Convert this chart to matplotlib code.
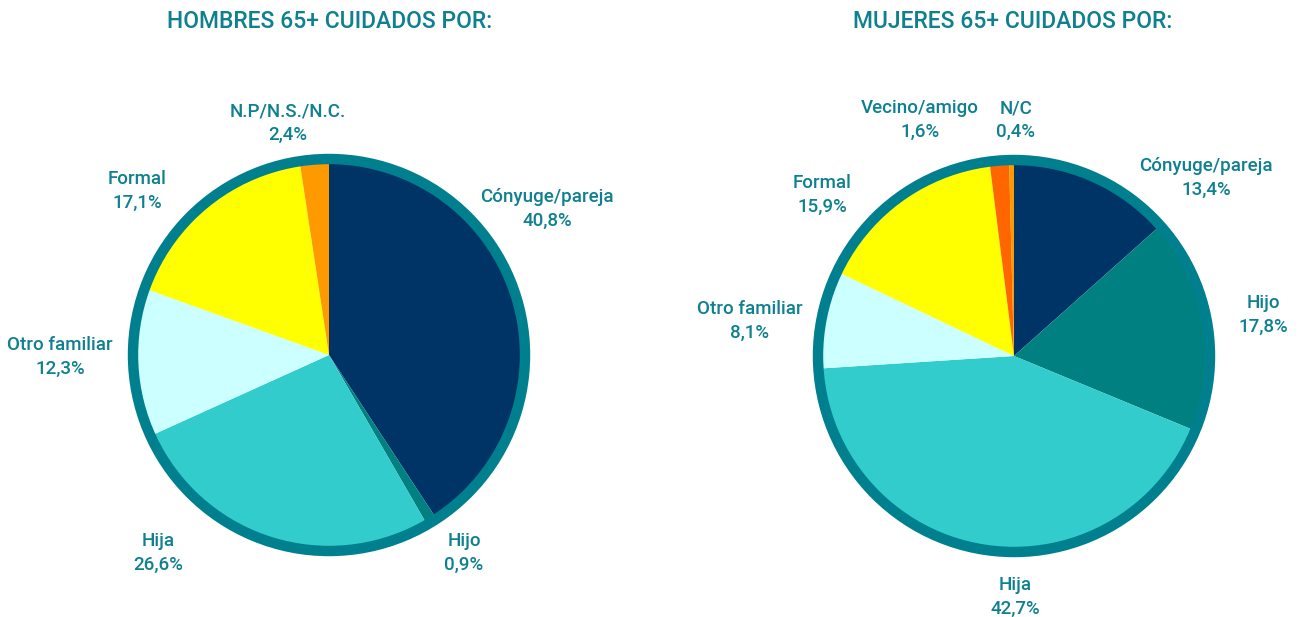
import matplotlib
matplotlib.use("Agg")
import matplotlib.pyplot as plt
from matplotlib.patches import Circle

# Datos
hombres_cat = ["Cónyuge/pareja", "Hijo", "Hija", "Otro familiar", "Formal", "N.P/N.S./N.C."]
hombres_val = [40.8, 0.9, 26.6, 12.3, 17.1, 2.4]
hombres_col = ["#003366", "#008080", "#33CCCC", "#CCFFFF", "#FFFF00", "#FF9900"]

mujeres_cat = ["Cónyuge/pareja", "Hijo", "Hija", "Otro familiar", "Formal", "Vecino/amigo", "N/C"]
mujeres_val = [13.4, 17.8, 42.7, 8.1, 15.9, 1.6, 0.4]
mujeres_col = ["#003366", "#008080", "#33CCCC", "#CCFFFF", "#FFFF00", "#FF6600", "#FF9900"]

# Posiciones de las etiquetas (pixeles, y desde arriba)
hombres_pos = [(547, 209), (464, 553), (158, 553), (60, 357), (137, 191), (288, 123)]
mujeres_pos = [(1206, 178), (1263, 315), (1015, 597), (750, 321), (822, 195), (920, 120), (1016, 120)]

W, H = 1299, 617
TEXTO = "#0E8090"
ARO = "#00808E"

fig = plt.figure(figsize=(W / 100, H / 100), dpi=100)
ax = fig.add_axes([0, 0, 1, 1])
ax.set_xlim(0, W)
ax.set_ylim(0, H)
ax.set_aspect("equal")
ax.axis("off")


def dibujar(valores, colores, cats, pos, centro, titulo, xt):
    cx, cy = centro[0], H - centro[1]
    ax.pie(valores, colors=colores, startangle=90, counterclock=False,
           center=(cx, cy), radius=194, normalize=True,
           wedgeprops=dict(linewidth=0))
    # aro exterior
    ax.add_patch(Circle((cx, cy), 196, fill=False, edgecolor=ARO, linewidth=7.5))
    for c, v, (x, y) in zip(cats, valores, pos):
        txt = c + "\n" + f"{v:.1f}".replace(".", ",") + "%"
        ax.text(x, H - y, txt, ha="center", va="center", color=TEXTO,
                fontsize=13.5, family="Roboto", weight="medium", linespacing=1.4)
    ax.text(xt, H - 22, titulo, ha="center", va="center", color=TEXTO,
            fontsize=16.5, family="Roboto", weight="medium")


dibujar(hombres_val, hombres_col, hombres_cat, hombres_pos, (329, 355),
        "HOMBRES 65+ CUIDADOS POR:", 330)
dibujar(mujeres_val, mujeres_col, mujeres_cat, mujeres_pos, (1014, 356),
        "MUJERES 65+ CUIDADOS POR:", 1013)

ax.set_xlim(0, W)
ax.set_ylim(0, H)
fig.savefig("out.png", dpi=100)
